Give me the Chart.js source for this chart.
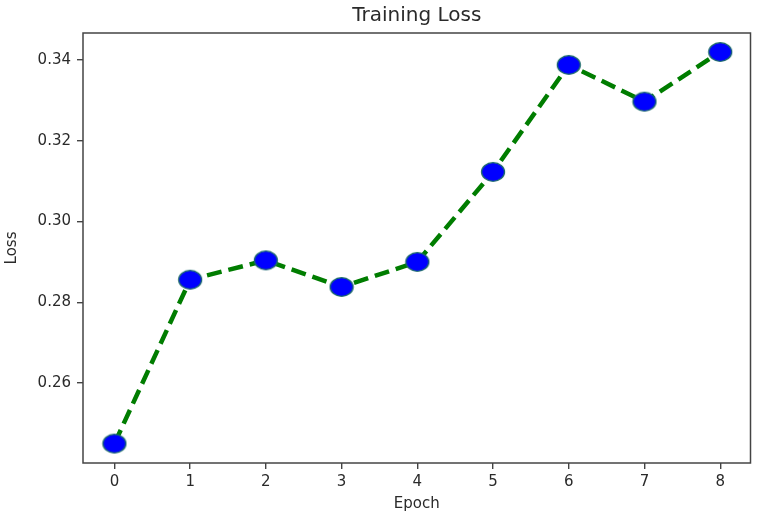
<!DOCTYPE html>
<html>
<head>
<meta charset="utf-8">
<script src="https://cdn.jsdelivr.net/npm/chart.js@4/dist/chart.umd.min.js"></script>
<style>
html,body{margin:0;padding:0;background:#fff;}
#c{display:block;}
</style>
</head>
<body>
<canvas id="c" width="766" height="519"></canvas>
<script>
const epochs = [0, 1, 2, 3, 4, 5, 6, 7, 8];
const loss = [0.2450, 0.2856, 0.2904, 0.2838, 0.2900, 0.3123, 0.3388, 0.3297, 0.3420];
const xTicks = [0, 1, 2, 3, 4, 5, 6, 7, 8];
const yTicks = [0.26, 0.28, 0.30, 0.32, 0.34];
const titleText = 'Training Loss';
const xLabel = 'Epoch';
const yLabel = 'Loss';

const FONT = "'DejaVu Sans', sans-serif";
const TEXT = '#2a2a2a';

// elliptical marker (the reference image is slightly stretched horizontally)
const marker = document.createElement('canvas');
marker.width = 26; marker.height = 22;
(function(){
  const m = marker.getContext('2d');
  m.beginPath();
  m.ellipse(13, 11, 11.5, 9.3, 0, 0, Math.PI * 2);
  m.fillStyle = '#0000ff';
  m.fill();
  m.lineWidth = 1.3;
  m.strokeStyle = '#1d6b6b';
  m.stroke();
})();

const framePlugin = {
  id: 'frame',
  afterDatasetsDraw(chart) {
    const {ctx, chartArea: a} = chart;
    ctx.save();
    ctx.strokeStyle = '#444';
    ctx.lineWidth = 1.5;
    ctx.strokeRect(a.left, a.top, a.right - a.left, a.bottom - a.top);
    ctx.fillStyle = TEXT;
    ctx.font = "20px " + FONT;
    ctx.textAlign = 'center';
    ctx.textBaseline = 'middle';
    ctx.fillText(titleText, (a.left + a.right) / 2, 16);
    ctx.restore();
  }
};

new Chart(document.getElementById('c'), {
  type: 'line',
  data: {
    datasets: [{
      data: epochs.map((e, i) => ({x: e, y: loss[i]})),
      borderColor: '#007d00',
      borderWidth: 4.5,
      borderDash: [15, 7],
      fill: false,
      tension: 0,
      pointStyle: marker,
      pointRadius: 11,
      pointHoverRadius: 11
    }]
  },
  options: {
    responsive: false,
    animation: false,
    devicePixelRatio: 1,
    layout: {padding: {top: 33, right: 14, left: 0, bottom: 0}},
    plugins: {legend: {display: false}, tooltip: {enabled: false}, title: {display: false}},
    scales: {
      x: {
        type: 'linear',
        min: -0.415, max: 8.4,
        afterBuildTicks: s => { s.ticks = xTicks.map(v => ({value: v})); },
        afterFit: s => { s.height = 56; },
        grid: {display: true, drawOnChartArea: false, drawTicks: true, tickLength: 6, color: '#444', lineWidth: 1.4},
        border: {display: false},
        ticks: {color: TEXT, font: {family: FONT, size: 15}, padding: 4, maxRotation: 0, callback: v => String(v)},
        title: {display: true, text: xLabel, color: TEXT, font: {family: FONT, size: 15}, padding: {top: 0, bottom: 6}}
      },
      y: {
        type: 'linear',
        min: 0.2402, max: 0.3467,
        afterBuildTicks: s => { s.ticks = yTicks.map(v => ({value: v})); },
        afterFit: s => { s.width = 83; },
        grid: {display: true, drawOnChartArea: false, drawTicks: true, tickLength: 6, color: '#444', lineWidth: 1.4},
        border: {display: false},
        ticks: {color: TEXT, font: {family: FONT, size: 15}, padding: 6, callback: v => v.toFixed(2)},
        title: {display: true, text: yLabel, color: TEXT, font: {family: FONT, size: 15}, padding: {top: 3, bottom: 0}}
      }
    }
  },
  plugins: [framePlugin]
});
</script>
</body>
</html>
